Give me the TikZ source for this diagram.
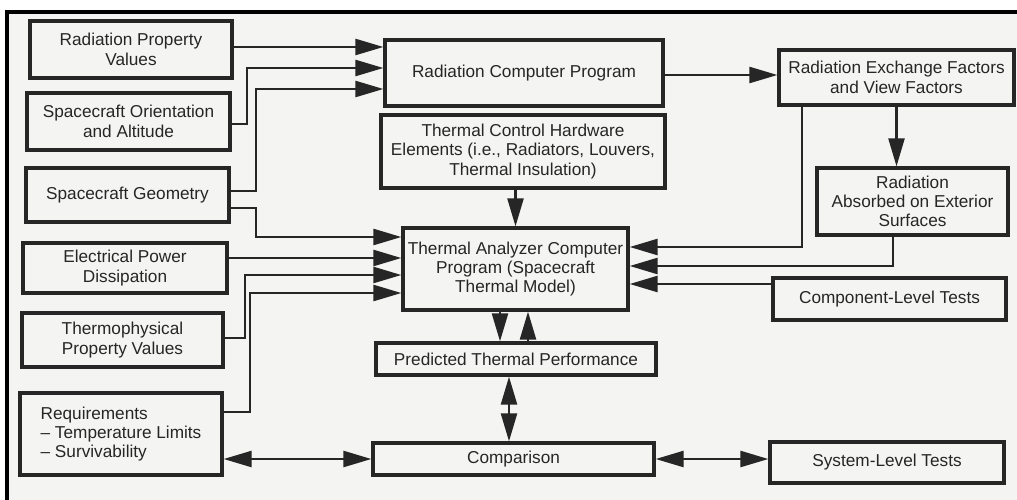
\documentclass[tikz,border=0pt]{standalone}
\usepackage{fontspec}
\setmainfont{Liberation Sans}
\usetikzlibrary{arrows.meta,calc}

\definecolor{ink}{HTML}{262626}
\definecolor{paper}{HTML}{F4F4F2}

\begin{document}
\begin{tikzpicture}[
  x=0.02cm, y=-0.02cm,
  every node/.style={font=\fontsize{9.8}{11}\selectfont, text=ink},
  blk/.style={draw=ink, line width=1.9pt, fill=paper, align=center, inner sep=1pt},
  arr/.style={-{Triangle[length=0.56cm, width=0.32cm]}, draw=ink, line width=1.4pt},
  dbl/.style={{Triangle[length=0.56cm, width=0.32cm]}-{Triangle[length=0.56cm, width=0.32cm]},
              draw=ink, line width=1.4pt},
]

%% ── Page and frame ───────────────────────────────────────────────────────────
\useasboundingbox (0,0) rectangle (1017,500);
\fill[white] (0,0) rectangle (1017,500);
\fill[paper] (7,12) rectangle (1017,500);
\draw[black, line width=2.3pt] (7,500) -- (7,12) -- (1017,12);

%% ── Inputs (left column) ─────────────────────────────────────────────────────
\node[blk, minimum width=4.04cm, minimum height=1.14cm] (rpv) at (131,49.5)
  {Radiation Property\\Values};
\node[blk, minimum width=4.06cm, minimum height=1.14cm] (soa) at (128.5,121.5)
  {Spacecraft Orientation\\and Altitude};
\node[blk, minimum width=4.06cm, minimum height=1.08cm] (geo) at (127.5,195)
  {Spacecraft Geometry};
\node[blk, minimum width=4.08cm, minimum height=1.00cm] (epd) at (125,268)
  {Electrical Power\\Dissipation};
\node[blk, minimum width=4.02cm, minimum height=1.08cm] (tpv) at (122.5,340)
  {Thermophysical\\Property Values};
\node[blk, align=left, minimum width=4.04cm, minimum height=1.64cm] (req) at (121,434)
  {Requirements\\\textendash{} Temperature Limits\\\textendash{} Survivability};

%% ── Programs (middle column) ─────────────────────────────────────────────────
\node[blk, minimum width=5.56cm, minimum height=1.32cm] (rcp) at (524,73)
  {Radiation Computer Program};
\node[blk, minimum width=5.68cm, minimum height=1.46cm] (tch) at (523,151.5)
  {Thermal Control Hardware\\Elements (i.e., Radiators, Louvers,\\Thermal Insulation)};
\node[blk, minimum width=4.50cm, minimum height=1.64cm] (tac) at (515.5,269)
  {Thermal Analyzer Computer\\Program (Spacecraft\\Thermal Model)};
\node[blk, minimum width=5.60cm, minimum height=0.64cm] (ptp) at (516,359)
  {Predicted Thermal Performance};
\node[blk, minimum width=5.62cm, minimum height=0.64cm] (cmp) at (513.5,459)
  {Comparison};

%% ── Results and tests (right column) ─────────────────────────────────────────
\node[blk, minimum width=4.70cm, minimum height=1.10cm] (ref) at (896.5,77.5)
  {Radiation Exchange Factors\\and View Factors};
\node[blk, minimum width=3.82cm, minimum height=1.34cm] (rab) at (912.5,201.5)
  {Radiation\\Absorbed on Exterior\\Surfaces};
\node[blk, minimum width=4.66cm, minimum height=0.84cm] (clt) at (889.5,299)
  {Component-Level Tests};
\node[blk, minimum width=4.68cm, minimum height=0.82cm] (slt) at (887,462.5)
  {System-Level Tests};

%% ── Into the radiation program ───────────────────────────────────────────────
\draw[arr] (rpv.east |- 0,47) -- (rcp.west |- 0,47);
\draw[arr] (soa.east |- 0,124) -- (247,124) |- (rcp.west |- 0,68);
\draw[arr] (geo.east |- 0,191) -- (256,191) |- (rcp.west |- 0,89);

%% ── Into the thermal analyzer (left side) ────────────────────────────────────
\draw[arr] (geo.east |- 0,208) -- (256,208) |- (tac.west |- 0,237);
\draw[arr] (epd.east |- 0,258) -- (tac.west |- 0,258);
\draw[arr] (tpv.east |- 0,338) -- (245,338) |- (tac.west |- 0,275);
\draw[arr] (req.east |- 0,412) -- (250,412) |- (tac.west |- 0,293);
\draw[arr] (tac.north |- tch.south) -- (tac.north);

%% ── Radiation chain and right side ───────────────────────────────────────────
\draw[arr] (rcp.east |- 0,75) -- (ref.west |- 0,75);
\draw[arr] (ref.south) -- (ref.south |- rab.north);
\draw[arr] (ref.south -| 802,0) |- (tac.east |- 0,247);
\draw[arr] (rab.south -| 893,0) |- (tac.east |- 0,266);
\draw[arr] (clt.west |- 0,284) -- (tac.east |- 0,284);

%% ── Prediction and comparison ────────────────────────────────────────────────
\draw[arr] (tac.south -| 500,0) -- (ptp.north -| 500,0);
\draw[arr] (ptp.north -| 528,0) -- (tac.south -| 528,0);
\draw[dbl] (ptp.south -| 509,0) -- (cmp.north -| 509,0);
\draw[dbl] (req.east |- cmp.west) -- (cmp.west);
\draw[dbl] (cmp.east) -- (cmp.east -| slt.west);

\end{tikzpicture}
\end{document}
